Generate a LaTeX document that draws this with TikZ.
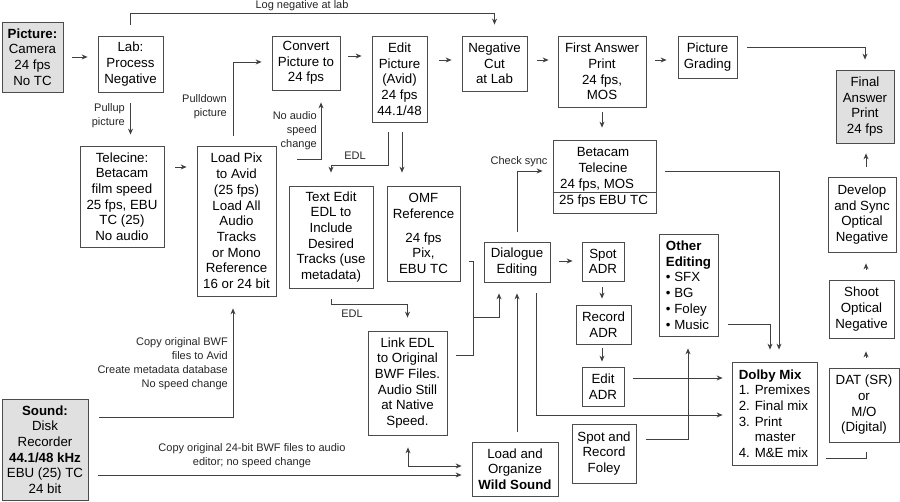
\documentclass[tikz,border=0pt]{standalone}
\usepackage{fontspec}
\setmainfont{Liberation Sans}
\usetikzlibrary{arrows.meta}
\tikzset{
  bx/.style={draw=black!70, line width=0.8pt, inner sep=0pt, align=center, font=\fontsize{13.3}{15.7}\selectfont, text=black},
  gbx/.style={bx, fill=black!12},
  txt/.style={inner sep=0pt, font=\fontsize{13.3}{15.7}\selectfont, text=black},
  lbl/.style={inner sep=0pt, font=\fontsize{11}{14}\selectfont, text=black!85},
  ln/.style={draw=black!75, line width=0.9pt},
  arr/.style={ln, -{Stealth[length=6pt,width=5pt]}},
  arrb/.style={ln, {Stealth[length=6pt,width=5pt]}-{Stealth[length=6pt,width=5pt]}},
}
\begin{document}
\begin{tikzpicture}[x=1pt,y=-1pt]
\useasboundingbox (0,0) rectangle (900,502);
% boxes
\node[gbx, minimum width=61pt, minimum height=70pt] (pic) at (32.5,57) {\textbf{Picture:}\\Camera\\24 fps\\No TC};
\node[bx, minimum width=65pt, minimum height=56pt] (lab) at (130.5,64) {Lab:\\Process\\Negative};
\node[bx, minimum width=68pt, minimum height=54pt] (conv) at (306,63) {Convert\\Picture to\\24 fps};
\node[bx, minimum width=55pt, minimum height=86pt] (edit) at (399.5,79) {Edit\\Picture\\(Avid)\\24 fps\\44.1/48};
\node[bx, minimum width=65pt, minimum height=55pt] (neg) at (494.5,63.5) {Negative\\Cut\\at Lab};
\node[bx, minimum width=88pt, minimum height=71pt] (first) at (602,71.5) {First Answer\\Print\\24 fps,\\MOS};
\node[bx, minimum width=59pt, minimum height=42pt] (grade) at (707.5,57) {Picture\\Grading};
\node[gbx, minimum width=58pt, minimum height=73pt] (final) at (865,106.5) {Final\\Answer\\Print\\24 fps};
\node[bx, minimum width=84pt, minimum height=101pt] (tele) at (122,196.5) {Telecine:\\Betacam\\film speed\\25 fps, EBU\\TC (25)\\No audio};
\node[bx, minimum width=79pt, minimum height=150pt] (load) at (236.5,221) {Load Pix\\to Avid\\(25 fps)\\Load All\\Audio\\Tracks\\or Mono\\Reference\\16 or 24 bit};
\node[bx, minimum width=103pt, minimum height=73pt] (beta) at (604.5,176.5) {};
\node[txt, anchor=base] (betaA) at (603,156.7) {Betacam};
\node[txt, anchor=base] (betaB) at (603,172.7) {Telecine};
\node[txt, anchor=base west] (betaC) at (560,188.7) {24 fps, MOS};
\node[txt, anchor=base west] (betaD) at (559,204.7) {25 fps EBU TC};
\draw[draw=black!70, line width=0.8pt] (beta.west |- 0,192) -- (beta.east |- 0,192);
\node[bx, minimum width=68pt, minimum height=75pt] (dev) at (862,214.5) {Develop\\and Sync\\Optical\\Negative};
\node[bx, minimum width=84pt, minimum height=102pt] (textedit) at (331,237) {Text Edit\\EDL to\\Include\\Desired\\Tracks (use\\metadata)};
\node[bx, minimum width=73pt, minimum height=95pt] (omf) at (423.5,233.5) {OMF\\Reference\\[8pt]24 fps\\Pix,\\EBU TC};
\node[bx, minimum width=66pt, minimum height=40pt] (dial) at (517,262) {Dialogue\\Editing};
\node[bx, minimum width=42pt, minimum height=39pt] (spot) at (603,261.5) {Spot\\ADR};
\node[bx, minimum width=59pt, minimum height=102pt, align=left] (other) at (688.5,285) {\textbf{Other}\\\textbf{Editing}\\• SFX\\• BG\\• Foley\\• Music};
\node[bx, minimum width=55pt, minimum height=39pt] (rec) at (603.5,324.5) {Record\\ADR};
\node[bx, minimum width=65pt, minimum height=58pt] (shoot) at (861.5,309) {Shoot\\Optical\\Negative};
\node[bx, minimum width=79pt, minimum height=104pt] (link) at (407.5,383) {Link EDL\\to Original\\BWF Files.\\Audio Still\\at Native\\Speed.};
\node[bx, minimum width=85pt, minimum height=103pt, align=left] (dolby) at (774.5,413.5) {\textbf{Dolby Mix}\\1. Premixes\\2. Final mix\\3. Print\\\phantom{3. }master\\4. M\&E mix};
\node[bx, minimum width=42pt, minimum height=39pt] (eadr) at (603,386.5) {Edit\\ADR};
\node[bx, minimum width=70pt, minimum height=74pt] (dat) at (864,405) {DAT (SR)\\or\\M/O\\(Digital)};
\node[gbx, minimum width=86pt, minimum height=101pt] (sound) at (45,449.5) {\textbf{Sound:}\\Disk\\Recorder\\\textbf{44.1/48 kHz}\\EBU (25) TC\\24 bit};
\node[bx, minimum width=64pt, minimum height=59pt] (foley) at (604,453.5) {Spot and\\Record\\Foley};
\node[bx, minimum width=86pt, minimum height=54pt] (wild) at (515,469) {Load and\\Organize\\\textbf{Wild Sound}};
% labels
\node[lbl] (lLog) at (302,6) {Log negative at lab};
\node[lbl, anchor=east, align=right] (lPullup) at (125,115.5) {Pullup\\picture};
\node[lbl, anchor=east, align=right] (lPulldown) at (227,107) {Pulldown\\picture};
\node[lbl, anchor=east, align=right] (lNoaudio) at (317,131) {No audio\\speed\\change};
\node[lbl] (lEdl1) at (355,156) {EDL};
\node[lbl] (lEdl2) at (352,314) {EDL};
\node[lbl] (lCheck) at (519,162) {Check sync};
\node[lbl, anchor=east, align=right] (lCopy1) at (228,364) {Copy original BWF\\files to Avid\\Create metadata database\\No speed change};
\node[lbl, align=center] (lCopy2) at (252,455.5) {Copy original 24-bit BWF files to audio\\editor; no speed change};
% connectors
\coordinate (nas) at (297,159);
\coordinate (j1) at (473,261);
\coordinate (j2) at (473,317);
\draw[arr, shorten <=9pt, shorten >=10pt] (pic.east) -- (pic.east -| lab.west);
\draw[arr, shorten <=11pt, shorten >=11pt] (lab.north) -- ++(0,-22) -| (neg.north);
\draw[arr, shorten <=11pt, shorten >=11pt] (lab.south) -- (lab.south |- tele.north);
\draw[arr, shorten <=11pt, shorten >=10pt] (tele.east |- 0,167) -- (load.west |- 0,167);
\draw[arr, shorten <=10pt, shorten >=10pt] (load.north -| 233,0) |- (conv.west |- 0,62);
\draw[arr, shorten >=12pt] (nas) -| (conv.south -| 321,0);
\draw[arr, shorten <=8pt, shorten >=10pt] (conv.east |- 0,56) -- (edit.west |- 0,56);
\draw[arr, shorten <=12pt, shorten >=10pt] (edit.east |- 0,60) -- (neg.west |- 0,60);
\draw[arr, shorten <=10pt, shorten >=9pt] (neg.east |- 0,60) -- (first.west |- 0,60);
\draw[arr, shorten <=9pt, shorten >=11pt] (first.east |- 0,60) -- (grade.west |- 0,60);
\draw[arr, shorten <=10pt, shorten >=10pt] (grade.east |- 0,47) -| (final.north);
\draw[arr, shorten <=5pt, shorten >=12pt] (first.south) -- (first.south |- beta.north);
\draw[arr, shorten <=10pt, shorten >=13pt] (edit.south -| 388,0) |- (331,165) -- (textedit.north);
\draw[arr, shorten <=10pt, shorten >=13pt] (edit.south -| 402,0) -- (omf.north -| 402,0);
\draw[arr, shorten <=11pt, shorten >=13pt] (textedit.south) |- (407.5,304) -- (link.north);
\draw[arr, shorten <=9pt, shorten >=11pt] (omf.east |- j1) -- (j1) |- (499,317) -- (dial.south -| 499,0);
\draw[ln, shorten <=9pt] (link.east |- 0,355) -| (j2);
\draw[arr, shorten <=10pt, shorten >=10pt] (dial.north) |- (beta.west |- 0,171);
\draw[arr, shorten <=9pt, shorten >=9pt] (dial.east |- 0,261) -- (spot.west |- 0,261);
\draw[arr, shorten <=6pt, shorten >=6pt] (spot.south -| 602,0) -- (rec.north -| 602,0);
\draw[arr, shorten <=4pt, shorten >=5pt] (rec.south -| 602,0) -- (eadr.north -| 602,0);
\draw[arr, shorten <=9pt, shorten >=9pt] (eadr.east |- 0,378) -- (dolby.west |- 0,378);
\draw[arr, shorten <=11pt, shorten >=9pt] (dial.south -| 536,0) |- (dolby.west |- 0,415);
\draw[arr, shorten <=10pt, shorten >=11pt] (wild.north -| 517,0) -- (dial.south);
\draw[arrb, shorten <=12pt, shorten >=10pt] (link.south -| 408,0) |- (wild.west |- 0,466);
\draw[arr, shorten <=11pt, shorten >=12pt] (sound.east |- 0,417) -| (load.south -| 233,0);
\draw[arr, shorten <=10pt, shorten >=10pt] (sound.east |- 0,475) -- (wild.west |- 0,475);
\draw[arr, shorten <=9pt, shorten >=12pt] (beta.east |- 0,171) -| (dolby.north -| 779,0);
\draw[arr, shorten <=10pt, shorten >=12pt] (other.east |- 0,324) -| (dolby.north -| 770,0);
\draw[arr, shorten <=10pt, shorten >=12pt] (foley.east |- 0,439) -| (other.south -| 688,0);
\draw[ln, shorten <=9pt, shorten >=10pt] (dolby.east |- 0,458) -| (dat.south -| 866,0);
\draw[arr, shorten <=10pt, shorten >=13pt] (dat.north -| 866,0) -- (shoot.south -| 866,0);
\draw[arr, shorten <=10pt, shorten >=11pt] (shoot.north -| 866,0) -- (dev.south -| 866,0);
\draw[arr, shorten <=10pt, shorten >=10pt] (dev.north -| 866,0) -- (final.south -| 866,0);
\end{tikzpicture}
\end{document}
